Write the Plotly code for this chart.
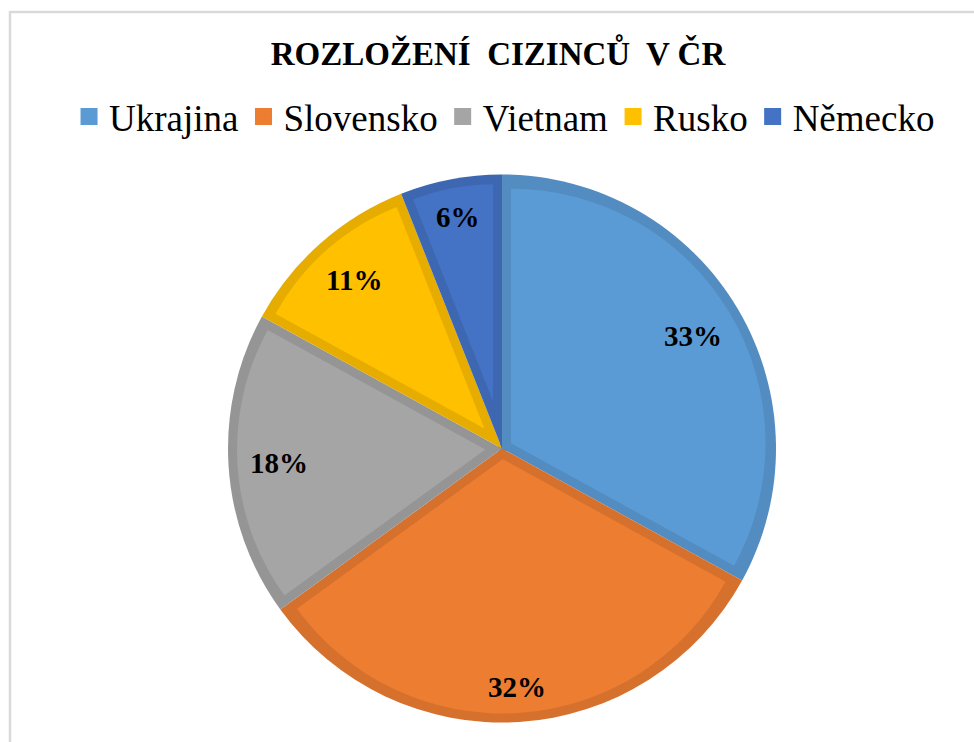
import math
import plotly.graph_objects as go

# ---- data ----
countries = ["Ukrajina", "Slovensko", "Vietnam", "Rusko", "Německo"]
shares = [33, 32, 18, 11, 6]
fill_colors = ["#5B9BD5", "#ED7D31", "#A5A5A5", "#FFC000", "#4472C4"]
border_colors = ["#528CC0", "#D5712C", "#959595", "#E6AD00", "#3D67B0"]
title_text = "ROZLOŽENÍ\u00a0 CIZINCŮ\u00a0 V ČR"

# ---- geometry (pixels) ----
W, H = 974, 742
CX, CY = 502, 448.5
R = 274
B = 9  # inner border width
FONT = "Liberation Serif"


def dom(cx, cy, r):
    return dict(x=[(cx - r) / W, (cx + r) / W], y=[1 - (cy + r) / H, 1 - (cy - r) / H])


fig = go.Figure()

# legend-only trace (hidden under base)
fig.add_trace(go.Pie(
    labels=countries, values=shares, sort=False, direction="clockwise",
    marker=dict(colors=fill_colors, line=dict(width=5, color=fill_colors)),
    textinfo="none", hoverinfo="skip", domain=dom(CX, CY, 2), showlegend=True,
    textfont=dict(family=FONT),
))

# base pie with border colors
fig.add_trace(go.Pie(
    labels=countries, values=shares, sort=False, direction="clockwise",
    marker=dict(colors=border_colors, line=dict(width=0)),
    textinfo="none", hoverinfo="label+percent", domain=dom(CX, CY, R), showlegend=False,
))

# inset light slices to create per-slice inner borders
total = sum(shares)
R_in = R - B
for i in range(len(countries)):
    theta = 2 * math.pi * shares[i] / total
    a = B / math.sin(theta / 2)
    p = a / (R_in - a)
    cols = ["rgba(0,0,0,0)"] * len(countries)
    cols[i] = fill_colors[i]
    pulls = [0] * len(countries)
    pulls[i] = p
    fig.add_trace(go.Pie(
        labels=countries, values=shares, sort=False, direction="clockwise",
        marker=dict(colors=cols, line=dict(width=0)), pull=pulls,
        textinfo="none", hoverinfo="skip", domain=dom(CX, CY, R_in), showlegend=False,
    ))

# percentage labels near the inner end of each slice
annotations = []
cum = 0
R_lab = 254
hw, hh = 30, 13
for i, v in enumerate(shares):
    mid = 2 * math.pi * (cum + v / 2) / total
    cum += v
    ux, uy = math.sin(mid), -math.cos(mid)
    d = R_lab - (abs(ux) * hw + abs(uy) * hh)
    px, py = CX + d * ux, CY + d * uy
    annotations.append(dict(
        x=px / W, y=1 - py / H, xref="paper", yref="paper", showarrow=False,
        text=f"{round(100 * v / total)}%", xanchor="center", yanchor="middle",
        font=dict(family=FONT, size=29, color="black", weight="bold"),
    ))

fig.update_layout(
    width=W, height=H,
    font=dict(family=FONT, color="black"),
    margin=dict(l=0, r=0, t=0, b=0),
    paper_bgcolor="white", plot_bgcolor="white",
    title=dict(text=title_text, x=0.5113, xanchor="center", y=1 - 53 / H, yanchor="middle",
               font=dict(family=FONT, size=33, color="black", weight="bold")),
    legend=dict(orientation="h", x=0.518, xanchor="center", y=1 - 117 / H, yanchor="middle",
                font=dict(family=FONT, size=37, color="black", weight="normal", style="normal"),
                traceorder="normal", itemclick=False, itemdoubleclick=False),
    annotations=annotations,
    shapes=[dict(type="rect", xref="paper", yref="paper", x0=10 / W, x1=1.02,
                 y0=-0.02, y1=1 - 12 / H, line=dict(color="#D9D9D9", width=2.5),
                 layer="below")],
)

fig.write_html("out.html", config={"displayModeBar": False},
               post_script="document.body.style.margin='0';document.body.style.overflow='hidden';")
